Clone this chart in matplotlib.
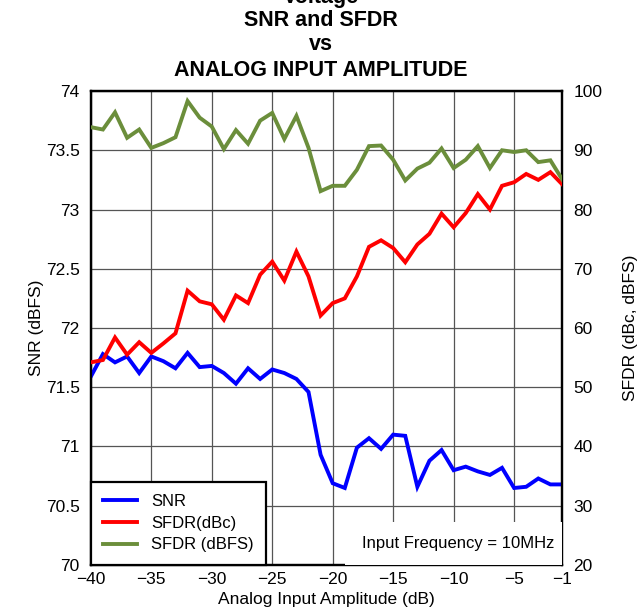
"""SNR and SFDR vs analog input amplitude (ADC datasheet style plot)."""

import matplotlib
matplotlib.use("Agg")
import matplotlib.pyplot as plt
from matplotlib.patches import Rectangle

plt.rcParams.update({
    "font.family": "sans-serif",
    "font.sans-serif": ["Liberation Sans", "DejaVu Sans"],
    "axes.unicode_minus": True,
})

# input amplitude, dB (1 dB steps)
amplitude = list(range(-40, 0))

snr = [71.59, 71.78, 71.71, 71.76, 71.62, 71.76, 71.72, 71.66, 71.79, 71.67,
       71.68, 71.62, 71.53, 71.66, 71.57, 71.65, 71.62, 71.57, 71.46, 70.93,
       70.69, 70.65, 70.99, 71.07, 70.98, 71.10, 71.09, 70.66, 70.88, 70.97,
       70.80, 70.83, 70.79, 70.76, 70.82, 70.65, 70.66, 70.73, 70.68, 70.68]

sfdr_dbc = [54.2, 54.6, 58.4, 55.5, 57.6, 55.8, 57.4, 59.1, 66.3, 64.5,
            64.0, 61.4, 65.5, 64.2, 69.0, 71.2, 68.0, 72.9, 68.7, 62.1,
            64.2, 65.0, 68.7, 73.7, 74.8, 73.5, 71.1, 74.1, 75.9, 79.3,
            77.0, 79.4, 82.6, 80.0, 84.0, 84.6, 86.0, 85.0, 86.3, 84.2]

sfdr_dbfs = [93.9, 93.5, 96.4, 92.1, 93.5, 90.4, 91.2, 92.2, 98.3, 95.5,
             94.0, 90.2, 93.4, 91.1, 95.0, 96.3, 91.9, 95.8, 90.4, 83.1,
             84.0, 84.0, 86.7, 90.7, 90.8, 88.4, 84.9, 86.9, 87.9, 90.3,
             87.0, 88.4, 90.7, 87.0, 90.0, 89.7, 90.0, 88.0, 88.3, 85.0]

x_ticks = [-40, -35, -30, -25, -20, -15, -10, -5, -1]
snr_ticks = [70, 70.5, 71, 71.5, 72, 72.5, 73, 73.5, 74]
snr_labels = ["70", "70.5", "71", "71.5", "72", "72.5", "73", "73.5", "74"]
sfdr_ticks = [20, 30, 40, 50, 60, 70, 80, 90, 100]

fig = plt.figure(figsize=(6.41, 6.12), dpi=100)
ax = fig.add_axes([0.1417, 0.0768, 0.7358, 0.7745])
ax2 = ax.twinx()

ax.plot(amplitude, snr, color="#0000ff", lw=2.8, label="SNR",
        solid_joinstyle="miter", zorder=3)
ax2.plot(amplitude, sfdr_dbc, color="#ff0000", lw=2.8, label="SFDR(dBc)",
         solid_joinstyle="miter", zorder=3)
ax2.plot(amplitude, sfdr_dbfs, color="#6b8e3b", lw=2.8, label="SFDR (dBFS)",
         solid_joinstyle="miter", zorder=3)

ax.set_xlim(-40, -1)
ax.set_ylim(70, 74)
ax2.set_ylim(20, 100)
ax.set_xticks(x_ticks)
ax.set_yticks(snr_ticks)
ax.set_yticklabels(snr_labels)
ax2.set_yticks(sfdr_ticks)

ax.grid(True, color="#555555", lw=0.9)
ax.set_axisbelow(True)

for a in (ax, ax2):
    a.tick_params(length=0, labelsize=12.5, pad=8)
    for s in a.spines.values():
        s.set_linewidth(1.6)
ax.tick_params(axis="x", pad=5)

ax.set_xlabel("Analog Input Amplitude (dB)", fontsize=12.5, labelpad=4)
ax.set_ylabel("SNR (dBFS)", fontsize=12.5, labelpad=1)
ax2.set_ylabel("SFDR (dBc, dBFS)", fontsize=12.5, labelpad=15)

# white patch behind the condition note
ax2.add_patch(Rectangle((0.539, 0.0), 0.461, 0.091, transform=ax2.transAxes,
                        facecolor="white", edgecolor="none", zorder=4))
ax2.text(0.983, 0.045, "Input Frequency = 10MHz", transform=ax2.transAxes,
         ha="right", va="center", fontsize=12, zorder=5)

handles = ax.get_lines()[:1] + ax2.get_lines()
leg = ax2.legend(handles, [h.get_label() for h in handles], loc="lower left",
                 bbox_to_anchor=(0, 0), borderaxespad=0, fontsize=12,
                 fancybox=False, framealpha=1, edgecolor="black",
                 handlelength=2.0, handletextpad=0.85, labelspacing=0.4,
                 borderpad=0.75)
leg.get_frame().set_linewidth(1.6)
leg.set_zorder(6)

fig.text(0.5, 1 + 2 / 612, "Voltage", ha="center", va="center",
         fontsize=15.5, fontweight="bold")
fig.text(0.5, 1 - 21 / 612, "SNR and SFDR", ha="center", va="center",
         fontsize=15.5, fontweight="bold")
fig.text(0.5, 1 - 45 / 612, "vs", ha="center", va="center",
         fontsize=15.5, fontweight="bold")
fig.text(0.5, 1 - 70 / 612, "ANALOG INPUT AMPLITUDE", ha="center",
         va="center", fontsize=15.5, fontweight="bold")

fig.savefig("out.png", dpi=100)
